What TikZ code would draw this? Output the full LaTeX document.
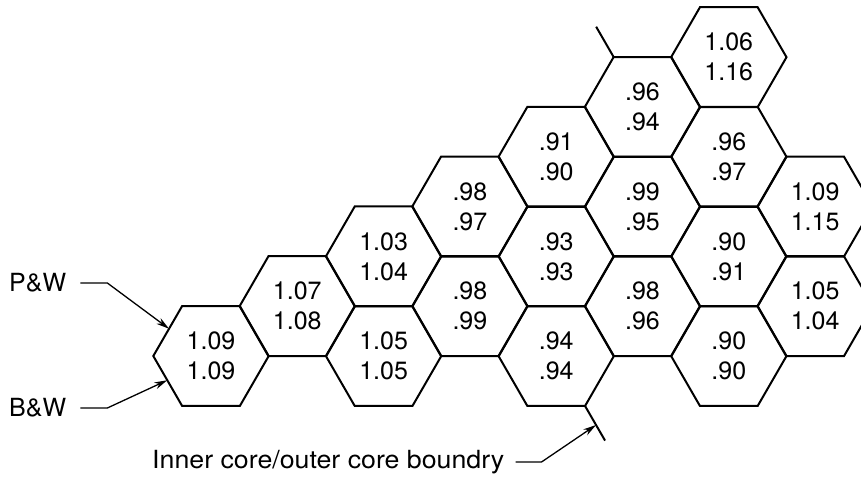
\documentclass[tikz,border=0pt]{standalone}
\usepackage{fontspec}
\usepackage{graphicx}
\setmainfont{TeX Gyre Heros}
\usetikzlibrary{shapes.geometric,arrows.meta,calc}
\begin{document}
\begin{tikzpicture}[x=1pt,y=-1pt,
  hexcell/.style={regular polygon, regular polygon sides=6, minimum size=115.4pt,
    inner sep=0pt, outer sep=0pt, draw, line width=2pt, align=center,
    font=\fontsize{25}{30}\selectfont},
  leader/.style={line width=1.3pt, -{Stealth[length=13pt,width=7pt]}},
  marker/.style={line width=2pt},
  lbl/.style={font=\fontsize{25}{30}\selectfont, inner sep=0pt}]
\clip (0,0) rectangle (861,480);
\foreach \c/\l/\a/\b in {0/0/1.09/1.09, 1/1/1.07/1.08, 2/2/1.03/1.04, 2/0/1.05/1.05,
  3/3/.98/.97, 3/1/.98/.99, 4/4/.91/.90, 4/2/.93/.93, 4/0/.94/.94,
  5/5/.96/.94, 5/3/.99/.95, 5/1/.98/.96,
  6/6/1.06/1.16, 6/4/.96/.97, 6/2/.90/.91, 6/0/.90/.90,
  7/3/1.09/1.15, 7/1/1.05/1.04}
  \node[hexcell] (h\c-\l) at ({211+86.3*\c},{356-49.8*\l}) {\a\\\b};
% boundary markers
\coordinate (mtop) at ($(h5-5.120)+(-17.5,-30.3)$);
\coordinate (mbot) at ($(h4-0.300)+(20,34.6)$);
\draw[marker] (h5-5.120) -- (mtop);
\draw[marker] (h4-0.300) -- (mbot);
\coordinate (mtip) at ($(h4-0.300)!0.55!(mbot)$);
% labels
\node[lbl, anchor=west] (pw) at (9,283) {P\&W};
\node[lbl, anchor=west] (bw) at (9,408) {B\&W};
\node[lbl, anchor=west] (ic) at (152,462) {\scalebox{1.07}[1]{Inner core/outer core boundry}};
\draw[leader] ([xshift=14pt]pw.east) -- ++(27,0) -- (h0-0.147);
\draw[leader] ([xshift=14pt]bw.east) -- ++(27,0) -- (h0-0.209);
\draw[leader] ([xshift=11pt]ic.east) -- ++(26,0) -- (mtip);
\end{tikzpicture}
\end{document}
